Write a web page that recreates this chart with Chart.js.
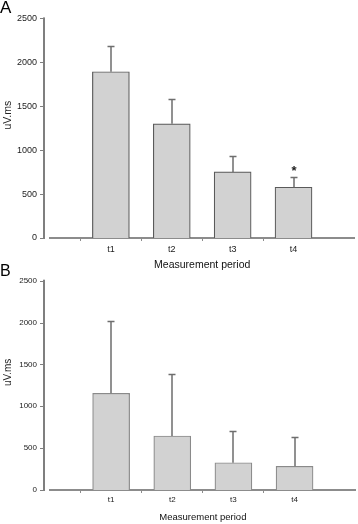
<!DOCTYPE html>
<html>
<head>
<meta charset="utf-8">
<script src="https://cdn.jsdelivr.net/npm/chart.js@4/dist/chart.umd.min.js"></script>
<style>
  html, body { margin: 0; padding: 0; background: #fff; }
  body { width: 358px; height: 524px; position: relative; overflow: hidden; }
  .panel { position: absolute; left: 0; width: 358px; }
  #wrapA { top: 0; height: 272px; }
  #wrapB { top: 258px; height: 266px; }
</style>
</head>
<body>
<div class="panel" id="wrapA"><canvas id="chartA" width="358" height="272"></canvas></div>
<div class="panel" id="wrapB"><canvas id="chartB" width="358" height="266"></canvas></div>
<script>
// ---- data ----
const categories = ['t1', 't2', 't3', 't4'];
const meanA = [1893, 1300, 752, 578];
const sdA = [292, 279, 186, 122];
const markA = ['', '', '', '*'];
const meanB = [1155, 645, 326, 283];
const sdB = [860, 741, 382, 354];
const markB = ['', '', '', ''];
const yTicks = [0, 500, 1000, 1500, 2000, 2500];
const xTitle = 'Measurement period';
const yTitle = 'uV.ms';
const panelLabels = ['A', 'B'];

const FONT = 'Arial, "Liberation Sans", sans-serif';

const decoPlugin = {
  id: 'deco',
  afterDatasetsDraw(chart, args, o) {
    const { ctx, scales: { y } } = chart;
    const meta = chart.getDatasetMeta(0);
    ctx.save();
    ctx.strokeStyle = o.errColor;
    ctx.lineWidth = o.errWidth;
    meta.data.forEach((bar, i) => {
      const v = chart.data.datasets[0].data[i];
      const sd = o.sd[i];
      if (v == null || sd == null) return;
      const px = Math.round(bar.x);
      const yTop = Math.round(y.getPixelForValue(v + sd)) + 0.5;
      ctx.beginPath();
      ctx.moveTo(px, bar.y);
      ctx.lineTo(px, yTop);
      ctx.moveTo(px - o.cap, yTop);
      ctx.lineTo(px + o.cap, yTop);
      ctx.stroke();
      const m = o.marks[i];
      if (m) {
        ctx.fillStyle = '#222';
        ctx.font = 'bold 13px ' + FONT;
        ctx.textAlign = 'center';
        ctx.textBaseline = 'middle';
        ctx.fillText(m, px, yTop - 6);
      }
    });
    ctx.restore();
  },
  afterDraw(chart, args, o) {
    const { ctx, chartArea, scales: { y } } = chart;
    ctx.save();
    const ax = chartArea.left - 6;
    const yT = y.getPixelForValue(2500);
    const yB = y.getPixelForValue(0);
    ctx.fillStyle = o.axisColor;
    ctx.fillRect(ax - 1, yT - 1, 2, yB - yT + 2);
    yTicks.forEach(v => {
      const p = Math.round(y.getPixelForValue(v));
      ctx.fillRect(ax - 4, p, 4, 1);
    });
    ctx.fillStyle = '#222';
    ctx.font = o.yTitleSize + 'px ' + FONT;
    ctx.textAlign = 'center';
    ctx.textBaseline = 'middle';
    ctx.translate(o.yTitleX, (chartArea.top + chartArea.bottom) / 2 + o.yTitleShift);
    ctx.rotate(-Math.PI / 2);
    ctx.fillText(yTitle, 0, 0);
    ctx.restore();
  }
};

function makePanel(canvasId, label, means, sds, marks, cfg) {
  const labels = [''].concat(categories, ['']);
  const data = [null].concat(means, [null]);
  return new Chart(document.getElementById(canvasId), {
    type: 'bar',
    data: {
      labels: labels,
      datasets: [{
        data: data,
        backgroundColor: '#d2d2d2',
        borderColor: cfg.barBorder,
        borderWidth: 1.2,
        barThickness: 37
      }]
    },
    options: {
      responsive: false,
      animation: false,
      devicePixelRatio: 1,
      layout: { padding: { left: 0, right: 2, top: 0, bottom: 0 } },
      plugins: {
        legend: { display: false },
        tooltip: { enabled: false },
        title: {
          display: true,
          text: label,
          align: 'start',
          color: '#000',
          font: { family: FONT, size: cfg.labelSize, weight: 'normal', lineHeight: 14 / cfg.labelSize },
          padding: { top: cfg.labelPadTop, bottom: cfg.labelPadBottom }
        },
        deco: {
          sd: [null].concat(sds, [null]),
          marks: [''].concat(marks, ['']),
          errColor: '#6e6e6e',
          errWidth: 1.5,
          cap: 3.5,
          axisColor: '#7f7f7f',
          yTitleSize: cfg.yTitleSize,
          yTitleX: 8,
          yTitleShift: -13
        }
      },
      scales: {
        x: {
          type: 'category',
          offset: false,
          afterFit: s => { s.height = 34; },
          grid: {
            display: true,
            drawOnChartArea: false,
            drawTicks: true,
            tickLength: 3,
            tickColor: c => (c.index === 0 || c.index === labels.length - 1) ? 'rgba(0,0,0,0)' : '#8c8c8c',
            tickWidth: 1
          },
          border: { display: true, color: '#8c8c8c', width: 2 },
          ticks: {
            color: '#222',
            font: { family: FONT, size: cfg.tickSize },
            padding: cfg.xTickPad,
            maxRotation: 0,
            autoSkip: false
          },
          title: {
            display: true,
            text: xTitle,
            color: '#111',
            font: { family: FONT, size: cfg.xTitleSize },
            padding: { top: 0, bottom: cfg.xTitlePadBottom }
          }
        },
        y: {
          min: 0,
          max: 2500,
          afterFit: s => { s.width = 50; },
          afterBuildTicks: s => { s.ticks = yTicks.map(v => ({ value: v })); },
          grid: { display: false, drawTicks: false },
          border: { display: false },
          ticks: {
            color: '#222',
            font: { family: FONT, size: cfg.tickSize },
            padding: 13,
            callback: v => String(v)
          }
        }
      }
    },
    plugins: [decoPlugin]
  });
}

makePanel('chartA', panelLabels[0], meanA, sdA, markA, {
  barBorder: '#5a5a5a', labelSize: 17, labelPadTop: 0, labelPadBottom: 2.6,
  tickSize: 9, xTickPad: 3.6, xTitleSize: 10.5, xTitlePadBottom: 0.7, yTitleSize: 10.5
});
makePanel('chartB', panelLabels[1], meanB, sdB, markB, {
  barBorder: '#8a8a8a', labelSize: 16, labelPadTop: 6.6, labelPadBottom: 2.1,
  tickSize: 8, xTickPad: 2.3, xTitleSize: 9.5, xTitlePadBottom: 0.6, yTitleSize: 10
});
</script>
</body>
</html>
